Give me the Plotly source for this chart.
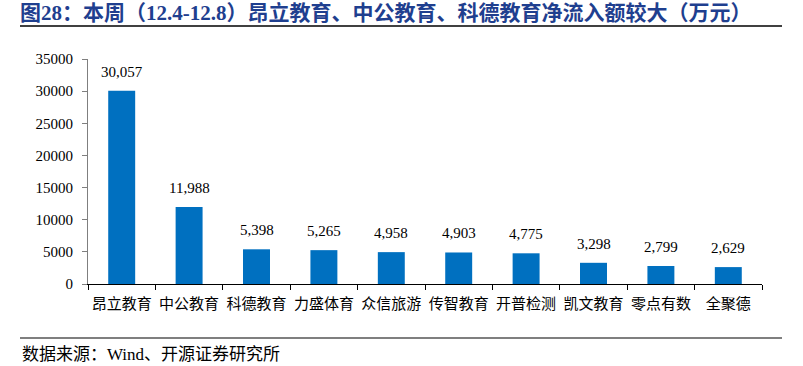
import plotly.graph_objects as go

categories = ["昂立教育", "中公教育", "科德教育", "力盛体育", "众信旅游", "传智教育", "开普检测", "凯文教育", "零点有数", "全聚德"]
values = [30057, 11988, 5398, 5265, 4958, 4903, 4775, 3298, 2799, 2629]
y_ticks = [0, 5000, 10000, 15000, 20000, 25000, 30000, 35000]

title_text = "图28：本周（12.4-12.8）昂立教育、中公教育、科德教育净流入额较大（万元）"
source_text = "数据来源：Wind、开源证券研究所"

W, H = 803, 366
L, R, T, B = 88, 41, 59, 82
pw, ph = W - L - R, H - T - B

def px_x(x):
    return (x - L) / pw

def px_y(y):
    return (H - B - y) / ph

fig = go.Figure()
fig.add_trace(go.Bar(
    x=categories, y=values,
    marker=dict(color="#0070C0", line=dict(width=0)),
    width=0.4,
))

label_annotations = [
    dict(x=c, y=v, xref="x", yref="y", text=f"{v:,}", showarrow=False,
         xanchor="center", yanchor="bottom", yshift=9,
         font=dict(family="Liberation Serif", size=15, color="#000000"))
    for c, v in zip(categories, values)
]

fig.update_layout(
    width=W, height=H,
    margin=dict(l=L, r=R, t=T, b=B),
    paper_bgcolor="white", plot_bgcolor="white",
    showlegend=False,
    xaxis=dict(
        type="category",
        showline=True, linecolor="#000000", linewidth=1,
        ticks="outside", tickson="boundaries", ticklen=5, tickcolor="#000000",
        ticklabelstandoff=6, tickangle=0,
        tickfont=dict(family="Noto Sans CJK SC", size=15, color="#000000"),
        showgrid=False, zeroline=False,
    ),
    yaxis=dict(
        range=[0, 35000], tickvals=y_ticks, ticktext=[str(t) for t in y_ticks],
        showline=True, linecolor="#7f7f7f", linewidth=1,
        ticks="outside", ticklen=5, tickcolor="#7f7f7f",
        ticklabelstandoff=6,
        tickfont=dict(family="Liberation Serif", size=15, color="#000000"),
        showgrid=False, zeroline=False,
    ),
    shapes=[
        dict(type="line", xref="paper", yref="paper",
             x0=px_x(20), x1=px_x(782), y0=px_y(26), y1=px_y(26),
             line=dict(color="#000000", width=1.5)),
        dict(type="line", xref="paper", yref="paper",
             x0=px_x(20), x1=px_x(782), y0=px_y(338), y1=px_y(338),
             line=dict(color="#000000", width=1.2)),
    ],
    annotations=label_annotations + [
        dict(text="<b>" + title_text + "</b>", xref="paper", yref="paper",
             x=px_x(18), y=px_y(13), xanchor="left", yanchor="middle",
             showarrow=False,
             font=dict(family="Liberation Serif, Noto Sans CJK SC", size=21, color="#1F3F8F")),
        dict(text=source_text, xref="paper", yref="paper",
             x=px_x(20), y=px_y(354), xanchor="left", yanchor="middle",
             showarrow=False,
             font=dict(family="Liberation Serif, Noto Sans CJK SC", size=17, color="#000000")),
    ],
)

fig.write_html("out.html")
